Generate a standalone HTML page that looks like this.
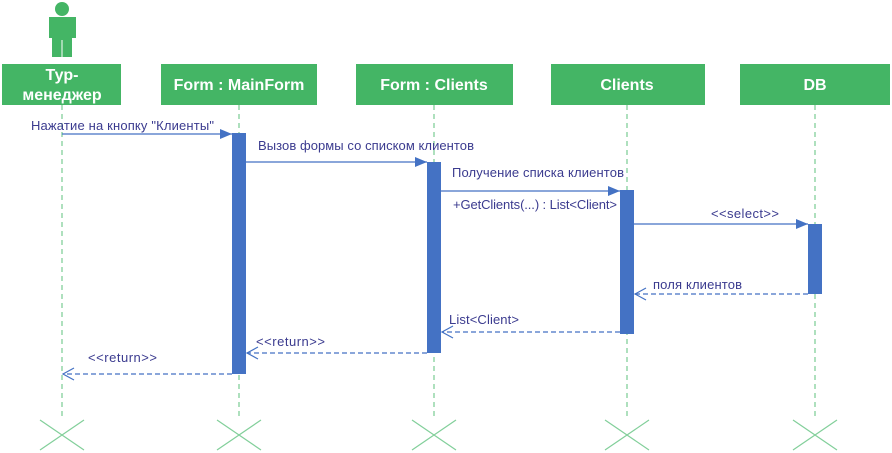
<!DOCTYPE html>
<html><head><style>body{margin:0;background:#fff}svg{display:block}</style></head><body>
<svg width="892" height="453" xmlns="http://www.w3.org/2000/svg" font-family="'Liberation Sans',sans-serif">
<defs>
<marker id="f" markerWidth="12" markerHeight="10" refX="12" refY="5" orient="auto" markerUnits="userSpaceOnUse"><path d="M0,0L12,5L0,10z" fill="#4472c4"/></marker>
<marker id="o" markerWidth="14" markerHeight="14" refX="12" refY="7" orient="auto" markerUnits="userSpaceOnUse"><path d="M1,1L12,7L1,13" fill="none" stroke="#4472c4" stroke-width="1.2"/></marker>
</defs>
<circle cx="62" cy="9" r="7" fill="#44b565"/>
<path d="M49,17h27v21h-4v19h-20v-19h-3z" fill="#44b565"/>
<line x1="62" y1="40" x2="62" y2="57" stroke="#fff"/>
<g stroke="#82cf9a" stroke-dasharray="5,4" stroke-width="1.3">
<line x1="62" y1="105" x2="62" y2="420"/><line x1="239" y1="105" x2="239" y2="420"/>
<line x1="434" y1="105" x2="434" y2="420"/><line x1="627" y1="105" x2="627" y2="420"/>
<line x1="815" y1="105" x2="815" y2="420"/></g>
<g fill="#44b565">
<rect x="2" y="64" width="119" height="41"/><rect x="161" y="64" width="156" height="41"/>
<rect x="356" y="64" width="157" height="41"/><rect x="551" y="64" width="154" height="41"/>
<rect x="740" y="64" width="150" height="41"/></g>
<g fill="#fff" font-weight="bold" font-size="16" text-anchor="middle">
<text x="62" y="80">Тур-</text><text x="62" y="100">менеджер</text>
<text x="239" y="90">Form : MainForm</text><text x="434" y="90">Form : Clients</text>
<text x="627" y="90">Clients</text><text x="815" y="90">DB</text></g>
<g fill="#4472c4">
<rect x="232" y="133" width="14" height="241"/><rect x="427" y="162" width="14" height="191"/>
<rect x="620" y="190" width="14" height="144"/><rect x="808" y="224" width="14" height="70"/></g>
<g stroke="#4472c4" stroke-width="1.2" fill="none">
<line x1="62" y1="134" x2="232" y2="134" marker-end="url(#f)"/>
<line x1="246" y1="162" x2="427" y2="162" marker-end="url(#f)"/>
<line x1="441" y1="191" x2="620" y2="191" marker-end="url(#f)"/>
<line x1="634" y1="224" x2="808" y2="224" marker-end="url(#f)"/>
<g stroke-dasharray="5,3">
<line x1="808" y1="294" x2="635" y2="294" marker-end="url(#o)"/>
<line x1="620" y1="332" x2="442" y2="332" marker-end="url(#o)"/>
<line x1="427" y1="353" x2="247" y2="353" marker-end="url(#o)"/>
<line x1="232" y1="374" x2="63" y2="374" marker-end="url(#o)"/></g></g>
<g fill="#3b3b8f" font-size="13">
<text x="31" y="130" textLength="183">Нажатие на кнопку "Клиенты"</text>
<text x="258" y="150" textLength="216">Вызов формы со списком клиентов</text>
<text x="452" y="177" textLength="172">Получение списка клиентов</text>
<text x="453" y="209" textLength="164">+GetClients(...) : List&lt;Client&gt;</text>
<text x="711" y="218" textLength="68">&lt;&lt;select&gt;&gt;</text>
<text x="653" y="289" textLength="89">поля клиентов</text>
<text x="449" y="324" textLength="70">List&lt;Client&gt;</text>
<text x="256" y="346" textLength="69">&lt;&lt;return&gt;&gt;</text>
<text x="88" y="362" textLength="69">&lt;&lt;return&gt;&gt;</text></g>
<g stroke="#82cf9a" stroke-width="1.2">
<path d="M40,420L84,450M84,420L40,450"/><path d="M217,420L261,450M261,420L217,450"/>
<path d="M412,420L456,450M456,420L412,450"/><path d="M605,420L649,450M649,420L605,450"/>
<path d="M793,420L837,450M837,420L793,450"/></g>
</svg></body></html>
